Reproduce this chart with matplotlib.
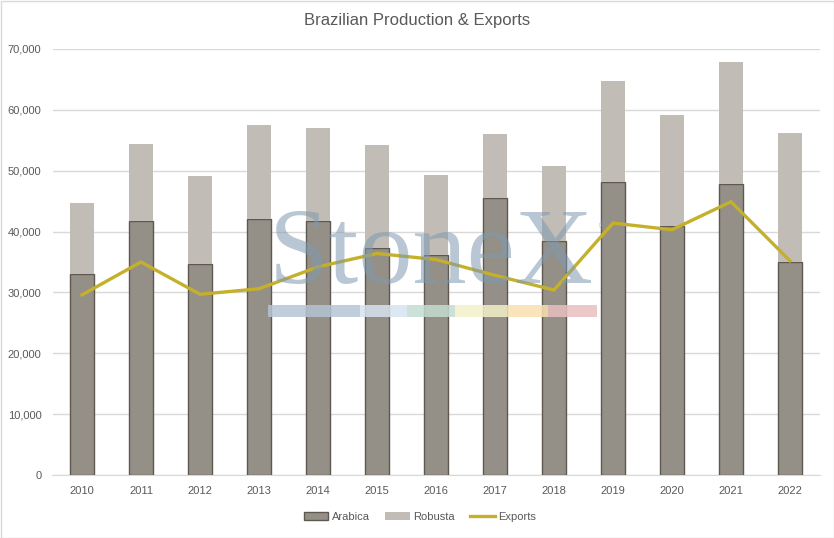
import matplotlib.pyplot as plt
from matplotlib.patches import Rectangle
from matplotlib.lines import Line2D
from matplotlib.ticker import FuncFormatter
import numpy as np

plt.rcParams['font.family'] = ['Liberation Sans', 'DejaVu Sans']

years = ["2010", "2011", "2012", "2013", "2014", "2015", "2016",
         "2017", "2018", "2019", "2020", "2021", "2022"]
arabica = [33000, 41700, 34600, 42000, 41700, 37250, 36100,
           45500, 38400, 48100, 40900, 47800, 35000]
total = [44700, 54400, 49100, 57500, 57000, 54200, 49300,
         56000, 50800, 64700, 59150, 67850, 56200]
robusta = [t - a for t, a in zip(total, arabica)]
exports = [29600, 35000, 29700, 30600, 34200, 36400, 35400,
           32800, 30400, 41400, 40300, 44900, 35200]

grey_txt = "#595959"
fig = plt.figure(figsize=(8.34, 5.38), dpi=100)
ax = fig.add_axes([52.5 / 834, 1 - 475 / 538, 767 / 834, 426 / 538])

x = np.arange(len(years))
ax.bar(x, arabica, width=0.42, color="#948f87", edgecolor="#5f5850", linewidth=1, zorder=3)
ax.bar(x, robusta, width=0.42, bottom=arabica, color="#c1bcb5", linewidth=0, zorder=3)
ax.plot(x, exports, color="#c5b02c", linewidth=2.4, zorder=4, solid_joinstyle="miter")

ax.set_xlim(-0.5, len(years) - 0.5)
ax.set_ylim(0, 70000)
ax.set_yticks(range(0, 70001, 10000))
ax.yaxis.set_major_formatter(FuncFormatter(lambda v, p: f"{int(v):,}"))
ax.set_xticks(x)
ax.set_xticklabels(years)
ax.grid(axis="y", color="#d9d9d9", linewidth=1, zorder=0)
ax.tick_params(length=0, labelsize=8, colors=grey_txt, pad=8)
for s in ["top", "right", "left"]:
    ax.spines[s].set_visible(False)
ax.spines["bottom"].set_color("#d9d9d9")

# StoneX watermark
fig.text(431 / 834, 1 - 283 / 538, "StoneX", fontsize=78, family="Liberation Serif",
         color="#7f9ab0", alpha=0.55, ha="center", va="baseline", zorder=5)
fig.text(599 / 834, 1 - 226 / 538, "®", fontsize=7, color="#7f9ab0", alpha=0.55,
         ha="left", va="center")
strip = [(268, 360, "#b5c5d4"), (360, 407, "#d5e3ef"), (407, 455, "#c4dcd0"),
         (455, 507, "#f3f0c8"), (507, 548, "#f9e0b0"), (548, 597, "#e9bfc0")]
for x0, x1, c in strip:
    fig.patches.append(Rectangle((x0 / 834, 1 - 317 / 538), (x1 - x0) / 834, 12 / 538,
                                 transform=fig.transFigure, color=c, alpha=0.85,
                                 zorder=5, linewidth=0))

fig.text(0.5, 1 - 20 / 538, "Brazilian Production & Exports", ha="center", va="center",
         fontsize=12, color=grey_txt)

handles = [Rectangle((0, 0), 1, 1, facecolor="#948f87", edgecolor="#5f5850"),
           Rectangle((0, 0), 1, 1, facecolor="#c1bcb5"),
           Line2D([0], [0], color="#c5b02c", linewidth=2.4)]
fig.legend(handles, ["Arabica", "Robusta", "Exports"], loc="center",
           bbox_to_anchor=(420 / 834, 1 - 517 / 538), ncol=3, frameon=False,
           fontsize=8, labelcolor=grey_txt, handlelength=2.2, handleheight=0.8,
           columnspacing=1.4, handletextpad=0.3)

fig.patches.append(Rectangle((0.5 / 834, 0.5 / 538), 833 / 834, 537 / 538,
                             transform=fig.transFigure, fill=False,
                             edgecolor="#d9d9d9", linewidth=1))

fig.savefig("out.png", dpi=100)
